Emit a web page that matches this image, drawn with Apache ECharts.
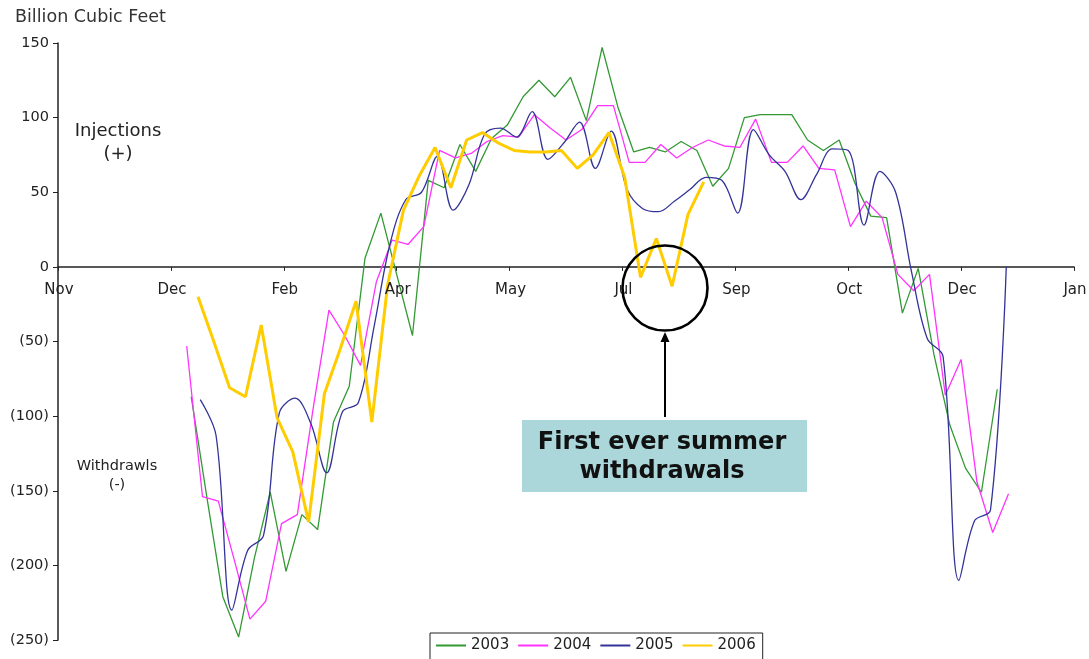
<!DOCTYPE html>
<html>
<head>
<meta charset="utf-8">
<script src="https://cdn.jsdelivr.net/npm/echarts@6/dist/echarts.min.js"></script>
<style>
html,body{margin:0;padding:0;background:#fff;}
#chart{width:1089px;height:659px;}
</style>
</head>
<body>
<div id="chart"></div>
<script>
// Axis tick labels (one every 50 days, starting early November)
const xTickLabels = ['Nov', 'Dec', 'Feb', 'Apr', 'May', 'Jul', 'Sep', 'Oct', 'Dec', 'Jan'];
const seriesNames = ['2003', '2004', '2005', '2006'];

// First weekly report of each year, in days from the axis start
const start2003 = 59;
const start2004 = 57;
const start2005 = 63;
const start2006 = 62;

// Weekly net injections (+) / withdrawals (-), billion cubic feet
const values2003 = [-87, -155, -221, -248, -195, -151, -204, -166, -176, -104, -80, 6, 36, -5, -46,
  58, 53, 82, 64, 86, 95, 114, 125, 114, 127, 98, 147, 107, 77, 80, 77, 84, 78, 54, 66,
  100, 102, 102, 102, 85, 78, 85, 56, 34, 33, -31, -1, -59, -106, -135, -151, -82];
const values2004 = [-53, -154, -157, -196, -236, -224, -172, -166, -95, -29, -46, -66, -10, 18, 15,
  27, 78, 73, 76, 84, 88, 87, 102, 93, 85, 92, 108, 108, 70, 70, 82, 73, 80, 85, 81,
  80, 99, 70, 70, 81, 66, 65, 27, 44, 33, -5, -16, -5, -86, -62, -144, -178, -152];
const values2005 = [-89, -113, -230, -190, -180, -98, -88, -105, -138, -97, -91, -40, 15, 45, 50,
  74, 38, 55, 89, 93, 87, 104, 72, 83, 97, 66, 91, 52, 39, 37, 44, 52, 60, 58, 36,
  92, 75, 64, 45, 62, 79, 78, 28, 64, 50, -3, -48, -60, -210, -170, -163, 0];
const values2006 = [-20, -50, -81, -87, -39, -101, -124, -171, -85, -55, -23, -104, -12, 38, 61,
  80, 53, 85, 90, 83, 78, 77, 77, 78, 66, 75, 90, 60, -7, 19, -13, 35, 57];

const colors = ['#339933', '#FF33FF', '#333399', '#FFCC00'];
const fontFam = '"DejaVu Sans", Verdana, sans-serif';

function weekly(start, vals) {
  return vals.map((v, i) => [start + 7 * i, v]);
}

const staticGraphics = [
  { type: 'text', x: 118, y: 131, style: { text: 'Injections', align: 'center', verticalAlign: 'middle',
    fontFamily: fontFam, fontSize: 18, fill: '#222' }, z: 10 },
  { type: 'text', x: 118, y: 154, style: { text: '(+)', align: 'center', verticalAlign: 'middle',
    fontFamily: fontFam, fontSize: 18, fill: '#222' }, z: 10 },
  { type: 'text', x: 117, y: 466, style: { text: 'Withdrawls', align: 'center', verticalAlign: 'middle',
    fontFamily: fontFam, fontSize: 14.5, fill: '#222' }, z: 10 },
  { type: 'text', x: 117, y: 485, style: { text: '(-)', align: 'center', verticalAlign: 'middle',
    fontFamily: fontFam, fontSize: 14.5, fill: '#222' }, z: 10 },
  { type: 'circle', shape: { cx: 665, cy: 288, r: 42.5 },
    style: { fill: 'none', stroke: '#000', lineWidth: 2.6 }, z: 20 },
  { type: 'line', shape: { x1: 665, y1: 417, x2: 665, y2: 340 },
    style: { stroke: '#000', lineWidth: 2 }, z: 20 },
  { type: 'polygon', shape: { points: [[665, 332], [660.5, 342], [669.5, 342]] },
    style: { fill: '#000' }, z: 20 },
  { type: 'rect', shape: { x: 522, y: 420, width: 285, height: 72 },
    style: { fill: '#ABD7DB' }, z: 20 },
  { type: 'text', x: 662, y: 457, style: { text: 'First ever summer\nwithdrawals', align: 'center',
    verticalAlign: 'middle', fontFamily: fontFam, fontSize: 24, fontWeight: 'bold',
    lineHeight: 29, fill: '#111' }, z: 21 }
];

const chart = echarts.init(document.getElementById('chart'));
chart.setOption({
  animation: false,
  backgroundColor: '#ffffff',
  grid: { left: 58, right: 15, top: 43, bottom: 19 },
  title: {
    text: 'Billion Cubic Feet',
    left: 10, top: 3,
    textStyle: { fontFamily: fontFam, fontSize: 17.5, fontWeight: 'normal', color: '#333' }
  },
  legend: {
    data: seriesNames.map(n => ({ name: n, icon: 'rect' })),
    left: 430, top: 633,
    itemWidth: 30, itemHeight: 2, itemGap: 9,
    borderColor: '#222', borderWidth: 1,
    padding: [5, 7, 8, 6],
    backgroundColor: '#fff',
    textStyle: { fontFamily: fontFam, fontSize: 15, color: '#222' }
  },
  xAxis: {
    type: 'value',
    min: 0, max: 450, interval: 50,
    axisLine: { onZero: true, lineStyle: { color: '#222', width: 1.5 } },
    axisTick: { show: true, length: 4, lineStyle: { color: '#222' } },
    splitLine: { show: false },
    axisLabel: { show: false }
  },
  yAxis: {
    type: 'value',
    min: -250, max: 150, interval: 50,
    axisLine: { show: true, onZero: false, lineStyle: { color: '#222', width: 1.5 } },
    axisTick: { show: true, length: 5, lineStyle: { color: '#222' } },
    splitLine: { show: false },
    axisLabel: {
      formatter: v => v < 0 ? '(' + (-v) + ')' : String(v),
      fontFamily: fontFam, fontSize: 14.5, color: '#222', margin: 9
    }
  },
  series: [
    { name: '2003', type: 'line', data: weekly(start2003, values2003), showSymbol: false,
      lineStyle: { color: colors[0], width: 1.3 }, itemStyle: { color: colors[0] } },
    { name: '2004', type: 'line', data: weekly(start2004, values2004), showSymbol: false,
      lineStyle: { color: colors[1], width: 1.3 }, itemStyle: { color: colors[1] } },
    { name: '2005', type: 'line', data: weekly(start2005, values2005), showSymbol: false, smooth: 0.35,
      lineStyle: { color: colors[2], width: 1.3 }, itemStyle: { color: colors[2] } },
    { name: '2006', type: 'line', data: weekly(start2006, values2006), showSymbol: false,
      lineStyle: { color: colors[3], width: 3 }, itemStyle: { color: colors[3] } }
  ],
  graphic: staticGraphics
});

// Month labels sit just under the zero line, placed from the axis scales
const zeroY = chart.convertToPixel({ yAxisIndex: 0 }, 0);
const labelGraphics = xTickLabels.map((lab, i) => ({
  type: 'text',
  x: chart.convertToPixel({ xAxisIndex: 0 }, i * 50) + 1,
  y: zeroY + 23,
  style: { text: lab, align: 'center', verticalAlign: 'middle',
    fontFamily: fontFam, fontSize: 15, fill: '#222' },
  z: 5
}));
chart.setOption({ graphic: staticGraphics.concat(labelGraphics) });
</script>
</body>
</html>
